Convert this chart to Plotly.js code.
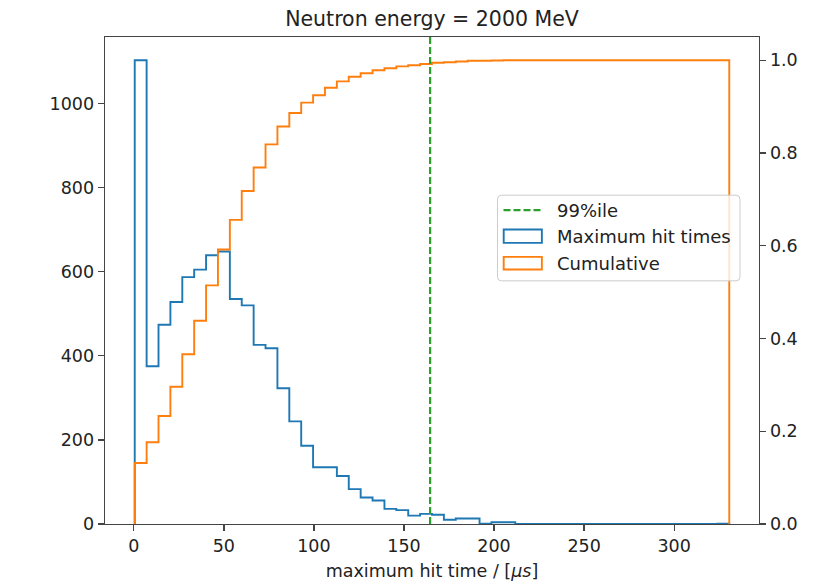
<!DOCTYPE html>
<html>
<head>
<meta charset="utf-8">
<script src="https://cdn.plot.ly/plotly-3.0.1.min.js"></script>
<style>html,body{margin:0;padding:0;background:#fff;}#chart{width:825px;height:581px;}</style>
</head>
<body>
<div id="chart"></div>
<script>
// ---- data ----
const chartTitle = "Neutron energy = 2000 MeV";
const xTitle = "maximum hit time / [<i>μs</i>]";
const histMin = 0.5;        // first bin edge (μs)
const histMax = 330.6;      // last bin edge (μs)
const nBins = 50;
const hitCounts = [1103, 375, 474, 528, 587, 605, 639, 648, 535, 520,
                   426, 418, 323, 244, 186, 135, 135, 114, 83, 63,
                   56, 36, 33, 20, 24, 22, 10, 13, 13, 1,
                   4, 4, 0, 0, 0, 0, 0, 0, 0, 0,
                   0, 0, 0, 0, 0, 0, 0, 0, 0, 1];
const percentile99 = 164.5;
const xTickVals = [0, 50, 100, 150, 200, 250, 300];
const yTickVals = [0, 200, 400, 600, 800, 1000];
const y2TickVals = [0, 0.2, 0.4, 0.6, 0.8, 1.0];
const legendLabels = ["99%ile", "Maximum hit times", "Cumulative"];

// ---- derived ----
const binW = (histMax - histMin) / nBins;
const edges = [];
for (let i = 0; i <= nBins; i++) edges.push(histMin + i * binW);
const total = hitCounts.reduce((a, b) => a + b, 0);
const cumulative = [];
let run = 0;
for (const c of hitCounts) { run += c; cumulative.push(run / total); }

function stepXY(vals) {
  const xs = [edges[0]], ys = [0];
  for (let i = 0; i < vals.length; i++) { xs.push(edges[i]); ys.push(vals[i]); }
  xs.push(edges[vals.length]); ys.push(0);
  return {xs, ys};
}
const blue = stepXY(hitCounts);
const orange = stepXY(cumulative);

const FONT = "DejaVu Sans, Liberation Sans, sans-serif";
const W = 825, H = 581;
const L = 104.5, R = 759, T = 36.7, B = 524;
const pw = R - L, ph = B - T;
const px = v => (v - L) / pw;
const py = v => (B - v) / ph;

const span = histMax - histMin;
const xRange = [histMin - 0.05 * span, histMax + 0.05 * span];
const yMax = Math.max(...hitCounts) * 1.05;

const traces = [
  {x: blue.xs, y: blue.ys, type: 'scatter', mode: 'lines', line: {shape: 'hv', color: '#1f77b4', width: 1.9},
   name: legendLabels[1], showlegend: false, yaxis: 'y', hoverinfo: 'skip'},
  {x: orange.xs, y: orange.ys, type: 'scatter', mode: 'lines', line: {shape: 'hv', color: '#ff7f0e', width: 1.9},
   name: legendLabels[2], showlegend: false, yaxis: 'y2', hoverinfo: 'skip'}
];

// manual matplotlib-like legend
function roundRect(x0, y0, x1, y1, r) {
  const P = (x, y) => px(x).toFixed(5) + ',' + py(y).toFixed(5);
  return 'M' + P(x0 + r, y0) + ' L' + P(x1 - r, y0) + ' Q' + P(x1, y0) + ' ' + P(x1, y0 + r) +
         ' L' + P(x1, y1 - r) + ' Q' + P(x1, y1) + ' ' + P(x1 - r, y1) +
         ' L' + P(x0 + r, y1) + ' Q' + P(x0, y1) + ' ' + P(x0, y1 - r) +
         ' L' + P(x0, y0 + r) + ' Q' + P(x0, y0) + ' ' + P(x0 + r, y0) + ' Z';
}

const shapes = [
  {type: 'line', xref: 'x', yref: 'paper', x0: percentile99, x1: percentile99, y0: 0, y1: 1,
   line: {color: '#2ca02c', width: 2.2, dash: '7px,3px'}, layer: 'above'},
  {type: 'path', xref: 'paper', yref: 'paper', path: roundRect(497.3, 195, 740, 280.7, 4),
   fillcolor: 'rgba(255,255,255,0.8)', line: {color: '#cccccc', width: 1}, layer: 'above'},
  {type: 'line', xref: 'paper', yref: 'paper', x0: px(503.3), x1: px(542.3), y0: py(210), y1: py(210),
   line: {color: '#2ca02c', width: 2.2, dash: '7px,3px'}, layer: 'above'},
  {type: 'rect', xref: 'paper', yref: 'paper', x0: px(503.5), x1: px(541.7), y0: py(242.7), y1: py(229.3),
   fillcolor: 'rgba(0,0,0,0)', line: {color: '#1f77b4', width: 1.9}, layer: 'above'},
  {type: 'rect', xref: 'paper', yref: 'paper', x0: px(503.5), x1: px(541.7), y0: py(269.3), y1: py(256.7),
   fillcolor: 'rgba(0,0,0,0)', line: {color: '#ff7f0e', width: 1.9}, layer: 'above'}
];

const legendY = [210, 236.5, 263];
const annotations = legendLabels.map((t, i) => ({
  text: t, xref: 'paper', yref: 'paper', x: px(555), y: py(legendY[i]),
  xanchor: 'left', yanchor: 'middle', showarrow: false,
  font: {family: FONT, size: 18, color: '#222'}
}));

const axisCommon = {
  showgrid: false, zeroline: false, showline: true, linecolor: '#444', linewidth: 1.4,
  ticks: 'outside', ticklen: 6, tickwidth: 1.3, tickcolor: '#444',
  tickfont: {family: FONT, size: 17.5, color: '#222'}
};

const layout = {
  width: W, height: H,
  margin: {l: L, r: W - R, t: T, b: H - B, pad: 0},
  paper_bgcolor: '#fff', plot_bgcolor: '#fff',
  showlegend: false,
  title: {text: chartTitle, font: {family: FONT, size: 20.5, color: '#222'},
          x: 0.5, xref: 'paper', y: 1 - 19 / H, yref: 'container', yanchor: 'middle'},
  xaxis: Object.assign({}, axisCommon, {
    range: xRange, tickvals: xTickVals, ticktext: xTickVals.map(String), mirror: true,
    title: {text: xTitle, font: {family: FONT, size: 17.5, color: '#222'}, standoff: 9}
  }),
  yaxis: Object.assign({}, axisCommon, {
    range: [0, yMax], tickvals: yTickVals, ticktext: yTickVals.map(String)
  }),
  yaxis2: Object.assign({}, axisCommon, {
    range: [0, 1.05], tickvals: y2TickVals, ticktext: y2TickVals.map(v => v.toFixed(1)),
    overlaying: 'y', side: 'right'
  }),
  shapes: shapes,
  annotations: annotations
};

Plotly.newPlot('chart', traces, layout, {displayModeBar: false, staticPlot: true});
</script>
</body>
</html>
